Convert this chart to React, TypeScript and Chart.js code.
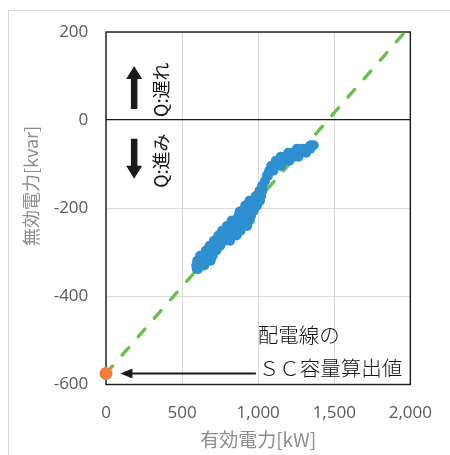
import { useEffect, useRef } from 'react';
import { Chart, registerables } from 'chart.js';

Chart.register(...registerables);

// ---- data ----
const xTickValues = [0, 500, 1000, 1500, 2000];
const yTickValues = [-600, -400, -200, 0, 200];

// measured (active power kW, reactive power kvar)
const cloudPoints: [number, number][] = [
  [1345, -57], [1365, -57],
  [1255, -65], [1288, -65], [1319, -65], [1343, -65],
  [1198, -74], [1225, -74], [1256, -74], [1288, -74], [1316, -74],
  [1148, -83], [1174, -83], [1206, -83], [1237, -83], [1264, -83],
  [1116, -92], [1143, -92], [1174, -92], [1205, -92],
  [1085, -104], [1118, -104], [1150, -104],
  [1072, -115], [1100, -115],
  [1057, -126], [1064, -126],
  [1045, -138],
  [1026, -149], [1030, -149],
  [1009, -160], [1027, -160],
  [984, -172], [1004, -172], [1020, -172],
  [942, -183], [962, -183], [987, -183], [1012, -183],
  [915, -194], [935, -194], [960, -194], [992, -194],
  [878, -208], [889, -206], [910, -206], [935, -206], [970, -206],
  [870, -217], [891, -217], [922, -217], [953, -217],
  [826, -228], [847, -228], [872, -228], [897, -228], [922, -228], [945, -228],
  [795, -240], [815, -240], [840, -240], [865, -240], [891, -240], [928, -240],
  [763, -251], [784, -251], [809, -251], [834, -251], [859, -251], [884, -251],
  [738, -262], [758, -262], [784, -262], [812, -262], [840, -262], [858, -262],
  [709, -274], [730, -274], [755, -274], [780, -274], [815, -274],
  [681, -285], [701, -285], [726, -285], [751, -285],
  [656, -296], [676, -296], [701, -296], [726, -296],
  [618, -308], [638, -308], [664, -308], [701, -308],
  [599, -319], [620, -319], [645, -319], [670, -319], [688, -319],
  [593, -330], [613, -330], [645, -330],
  [596, -338], [605, -338],
];

const fitLineX = [0, 2000];
const fitLineY = [-575, 214];
const scCapacityPoint = { x: 0, y: -575 };

const xTitle = '有効電力[kW]';
const yTitle = '無効電力[kvar]';
const lagLabel = 'Q:遅れ';
const leadLabel = 'Q:進み';
const noteLines = ['配電線の', 'ＳＣ容量算出値'];

// annotation anchors in data coordinates
const upArrow = { x: 185, from: 25, to: 123 };
const downArrow = { x: 185, from: -42, to: -133 };
const lagLabelPos = { x: 362, y: 69 };
const leadLabelPos = { x: 362, y: -92 };
const notePos = { x: 1010, y1: -489, y2: -564 };
const noteArrow = { fromX: 985, toX: 95, y: -575 };

function blockArrow(ctx: CanvasRenderingContext2D, cx: number, yTail: number, yTip: number) {
  const dir = yTip < yTail ? -1 : 1;
  const shaftW = 6.5;
  const headW = 16;
  const headL = 13;
  const yBase = yTip - dir * headL;
  ctx.beginPath();
  ctx.moveTo(cx - shaftW / 2, yTail);
  ctx.lineTo(cx - shaftW / 2, yBase);
  ctx.lineTo(cx - headW / 2, yBase);
  ctx.lineTo(cx, yTip);
  ctx.lineTo(cx + headW / 2, yBase);
  ctx.lineTo(cx + shaftW / 2, yBase);
  ctx.lineTo(cx + shaftW / 2, yTail);
  ctx.closePath();
  ctx.fillStyle = '#1a1a1a';
  ctx.fill();
}

const annotatePlugin = {
  id: 'annotate',
  beforeDatasetsDraw(chart: any) {
    const { ctx, chartArea: a } = chart;
    ctx.save();
    ctx.strokeStyle = '#1a1a1a';
    ctx.lineWidth = 1.4;
    ctx.strokeRect(a.left, a.top, a.right - a.left, a.bottom - a.top);
    ctx.restore();
  },
  afterDatasetsDraw(chart: any) {
    const { ctx } = chart;
    const xs = chart.scales.x;
    const ys = chart.scales.y;
    const px = (v: number) => xs.getPixelForValue(v);
    const py = (v: number) => ys.getPixelForValue(v);
    ctx.save();
    blockArrow(ctx, px(upArrow.x), py(upArrow.from), py(upArrow.to));
    blockArrow(ctx, px(downArrow.x), py(downArrow.from), py(downArrow.to));

    ctx.fillStyle = '#111';
    ctx.font = '18px "Noto Sans CJK JP", sans-serif';
    ctx.textAlign = 'center';
    ctx.textBaseline = 'middle';
    for (const [txt, pos] of [[lagLabel, lagLabelPos], [leadLabel, leadLabelPos]] as const) {
      ctx.save();
      ctx.translate(px(pos.x), py(pos.y));
      ctx.rotate(-Math.PI / 2);
      ctx.fillText(txt, 0, 0);
      ctx.restore();
    }

    ctx.font = '300 20.5px "Noto Sans CJK JP", sans-serif';
    ctx.textAlign = 'left';
    ctx.fillStyle = '#111';
    ctx.fillText(noteLines[0], px(notePos.x) - 2, py(notePos.y1));
    ctx.fillText(noteLines[1], px(notePos.x) - 1, py(notePos.y2));

    // thin arrow pointing to SC capacity point
    const ay = py(noteArrow.y);
    const tipX = px(noteArrow.toX);
    const headL = 12;
    ctx.strokeStyle = '#1a1a1a';
    ctx.lineWidth = 2;
    ctx.beginPath();
    ctx.moveTo(px(noteArrow.fromX), ay);
    ctx.lineTo(tipX + headL - 1, ay);
    ctx.stroke();
    ctx.beginPath();
    ctx.moveTo(tipX, ay);
    ctx.lineTo(tipX + headL, ay - 5);
    ctx.lineTo(tipX + headL, ay + 5);
    ctx.closePath();
    ctx.fillStyle = '#1a1a1a';
    ctx.fill();
    ctx.restore();
  },
  afterDraw(chart: any) {
    const { ctx } = chart;
    ctx.save();
    ctx.fillStyle = '#8c8c8c';
    ctx.font = '18px "Noto Sans CJK JP", sans-serif';
    ctx.textAlign = 'center';
    ctx.textBaseline = 'middle';
    ctx.translate(31, 186);
    ctx.rotate(-Math.PI / 2);
    ctx.fillText(yTitle, 0, 0);
    ctx.restore();
  },
};

export default function App() {
  const canvasRef = useRef<HTMLCanvasElement | null>(null);

  useEffect(() => {
    if (!canvasRef.current) return;
    const chart = new Chart(canvasRef.current, {
      type: 'scatter',
      data: {
        datasets: [
          {
            label: 'SC容量算出値',
            data: [scCapacityPoint],
            backgroundColor: '#f07b3b',
            borderWidth: 0,
            pointRadius: 6.5,
            clip: false,
          } as any,
          {
            label: '実測値',
            data: cloudPoints.map(([x, y]) => ({ x, y })),
            backgroundColor: '#2e8fd1',
            borderColor: '#2e8fd1',
            borderWidth: 0,
            pointRadius: 5,
          },
          {
            label: '近似線',
            data: fitLineX.map((x, i) => ({ x, y: fitLineY[i] })),
            showLine: true,
            borderColor: '#6cbf4f',
            borderWidth: 3.4,
            borderDash: [10, 14.5],
            borderCapStyle: 'round',
            pointRadius: 0,
            clip: 0,
          } as any,
        ],
      },
      options: {
        animation: false,
        responsive: true,
        maintainAspectRatio: false,
        layout: { padding: { left: 0, top: 32, right: 27, bottom: 0 } },
        plugins: { legend: { display: false }, tooltip: { enabled: false } },
        scales: {
          x: {
            type: 'linear',
            min: xTickValues[0],
            max: xTickValues[xTickValues.length - 1],
            afterBuildTicks: (s: any) => {
              s.ticks = xTickValues.map((v) => ({ value: v }));
            },
            afterFit: (s: any) => {
              s.height = 70.5;
            },
            border: { display: false },
            grid: { color: '#d9d9d9', lineWidth: 1, drawTicks: false },
            ticks: {
              color: '#595959',
              font: { family: '"Open Sans", sans-serif', size: 17 },
              padding: 18,
              maxRotation: 0,
              autoSkip: false,
              callback: (v: any) => Number(v).toLocaleString('en-US'),
            },
            title: {
              display: true,
              text: xTitle,
              color: '#8c8c8c',
              font: { family: '"Noto Sans CJK JP", sans-serif', size: 19 },
              padding: { top: 0, bottom: 3.6 },
            },
          },
          y: {
            type: 'linear',
            min: yTickValues[0],
            max: yTickValues[yTickValues.length - 1],
            afterBuildTicks: (s: any) => {
              s.ticks = yTickValues.map((v) => ({ value: v }));
            },
            afterFit: (s: any) => {
              s.width = 106;
            },
            border: { display: false },
            grid: {
              color: (c: any) => (c.tick && c.tick.value === 0 ? '#1a1a1a' : '#d9d9d9'),
              lineWidth: (c: any) => (c.tick && c.tick.value === 0 ? 1.3 : 1),
              drawTicks: false,
            },
            ticks: {
              color: '#595959',
              font: { family: '"Open Sans", sans-serif', size: 17 },
              padding: 17.7,
              autoSkip: false,
            },
          },
        },
      },
      plugins: [annotatePlugin],
    });
    return () => chart.destroy();
  }, []);

  return (
    <div style={{ position: 'fixed', left: 0, top: 0, width: 450, height: 455, background: '#fff' }}>
      <div
        style={{
          position: 'absolute',
          left: 8,
          top: 10,
          width: 470,
          height: 470,
          border: '1px solid #d9d9d9',
          boxSizing: 'border-box',
        }}
      />
      <div style={{ position: 'absolute', left: 0, top: 0, width: 450, height: 455 }}>
        <canvas ref={canvasRef} />
      </div>
    </div>
  );
}
